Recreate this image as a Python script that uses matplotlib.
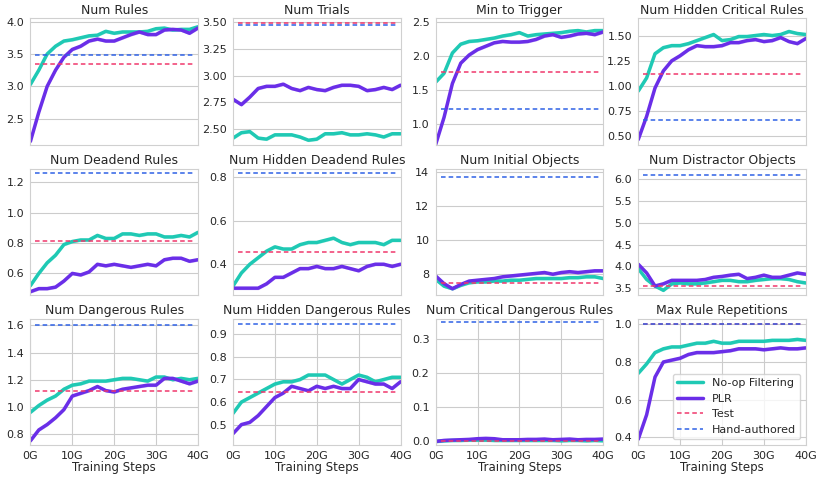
import numpy as np
import matplotlib.pyplot as plt
import seaborn as sns

sns.set_style('whitegrid')
plt.rcParams['font.family'] = ['DejaVu Sans']

steps = np.arange(0, 41, 2)  # in G

titles = ['Num Rules', 'Num Trials', 'Min to Trigger', 'Num Hidden Critical Rules',
          'Num Deadend Rules', 'Num Hidden Deadend Rules', 'Num Initial Objects', 'Num Distractor Objects',
          'Num Dangerous Rules', 'Num Hidden Dangerous Rules', 'Num Critical Dangerous Rules', 'Max Rule Repetitions']

noop = [
    [3.03, 3.25, 3.5, 3.62, 3.7, 3.72, 3.75, 3.78, 3.79, 3.85, 3.82, 3.84, 3.84, 3.84, 3.85, 3.89, 3.9, 3.87, 3.88, 3.88, 3.92],
    [2.42, 2.47, 2.48, 2.42, 2.41, 2.45, 2.45, 2.45, 2.43, 2.40, 2.41, 2.46, 2.46, 2.47, 2.45, 2.45, 2.46, 2.45, 2.43, 2.46, 2.46],
    [1.62, 1.75, 2.05, 2.18, 2.22, 2.23, 2.25, 2.27, 2.3, 2.32, 2.35, 2.3, 2.32, 2.33, 2.34, 2.35, 2.37, 2.38, 2.36, 2.38, 2.38],
    [0.95, 1.08, 1.32, 1.38, 1.4, 1.4, 1.42, 1.45, 1.48, 1.51, 1.45, 1.46, 1.49, 1.49, 1.5, 1.51, 1.5, 1.51, 1.54, 1.52, 1.51],
    [0.52, 0.6, 0.67, 0.72, 0.79, 0.81, 0.82, 0.82, 0.85, 0.83, 0.83, 0.86, 0.86, 0.85, 0.86, 0.86, 0.84, 0.84, 0.85, 0.84, 0.87],
    [0.3, 0.36, 0.4, 0.43, 0.46, 0.48, 0.47, 0.47, 0.49, 0.5, 0.5, 0.51, 0.52, 0.5, 0.49, 0.5, 0.5, 0.5, 0.49, 0.51, 0.51],
    [7.7, 7.3, 7.15, 7.35, 7.5, 7.55, 7.55, 7.6, 7.6, 7.65, 7.65, 7.7, 7.75, 7.75, 7.75, 7.75, 7.8, 7.8, 7.85, 7.85, 7.75],
    [3.95, 3.7, 3.55, 3.45, 3.6, 3.62, 3.6, 3.6, 3.62, 3.65, 3.68, 3.68, 3.65, 3.65, 3.68, 3.7, 3.72, 3.72, 3.7, 3.65, 3.62],
    [0.96, 1.01, 1.05, 1.08, 1.13, 1.16, 1.17, 1.19, 1.19, 1.19, 1.2, 1.21, 1.21, 1.2, 1.19, 1.22, 1.22, 1.2, 1.21, 1.2, 1.21],
    [0.55, 0.6, 0.62, 0.64, 0.66, 0.68, 0.69, 0.69, 0.7, 0.72, 0.72, 0.72, 0.7, 0.68, 0.7, 0.72, 0.71, 0.69, 0.7, 0.71, 0.71],
    [0.0, 0.002, 0.003, 0.003, 0.004, 0.004, 0.004, 0.003, 0.003, 0.003, 0.003, 0.003, 0.003, 0.003, 0.003, 0.002, 0.003, 0.003, 0.002, 0.003, 0.002],
    [0.74, 0.79, 0.85, 0.87, 0.88, 0.88, 0.89, 0.9, 0.9, 0.91, 0.9, 0.9, 0.91, 0.91, 0.91, 0.91, 0.915, 0.915, 0.915, 0.92, 0.915],
]

plr = [
    [2.15, 2.6, 3.0, 3.25, 3.45, 3.57, 3.62, 3.7, 3.73, 3.7, 3.7, 3.75, 3.8, 3.84, 3.8, 3.8, 3.87, 3.88, 3.87, 3.82, 3.9],
    [2.78, 2.73, 2.8, 2.88, 2.9, 2.9, 2.92, 2.88, 2.86, 2.89, 2.87, 2.86, 2.89, 2.91, 2.91, 2.9, 2.86, 2.87, 2.89, 2.87, 2.91],
    [0.7, 1.1, 1.6, 1.9, 2.02, 2.1, 2.15, 2.2, 2.22, 2.21, 2.21, 2.22, 2.25, 2.3, 2.32, 2.28, 2.3, 2.33, 2.34, 2.32, 2.36],
    [0.47, 0.7, 0.98, 1.15, 1.25, 1.3, 1.36, 1.4, 1.39, 1.39, 1.4, 1.43, 1.43, 1.45, 1.46, 1.44, 1.45, 1.48, 1.44, 1.42, 1.47],
    [0.48, 0.5, 0.5, 0.51, 0.55, 0.6, 0.59, 0.61, 0.66, 0.65, 0.66, 0.65, 0.64, 0.65, 0.66, 0.65, 0.69, 0.7, 0.7, 0.68, 0.69],
    [0.29, 0.29, 0.29, 0.29, 0.31, 0.34, 0.34, 0.36, 0.38, 0.38, 0.39, 0.38, 0.38, 0.39, 0.38, 0.37, 0.39, 0.4, 0.4, 0.39, 0.4],
    [7.9, 7.45, 7.15, 7.4, 7.6, 7.65, 7.7, 7.75, 7.85, 7.9, 7.95, 8.0, 8.05, 8.1, 8.0, 8.1, 8.15, 8.1, 8.15, 8.2, 8.2],
    [4.05, 3.85, 3.55, 3.6, 3.68, 3.68, 3.68, 3.68, 3.7, 3.75, 3.77, 3.8, 3.82, 3.72, 3.75, 3.8, 3.75, 3.75, 3.8, 3.85, 3.82],
    [0.75, 0.83, 0.87, 0.92, 0.98, 1.08, 1.1, 1.12, 1.15, 1.12, 1.11, 1.13, 1.14, 1.15, 1.16, 1.16, 1.21, 1.21, 1.19, 1.17, 1.19],
    [0.46, 0.5, 0.51, 0.54, 0.58, 0.62, 0.64, 0.67, 0.66, 0.65, 0.67, 0.66, 0.67, 0.66, 0.66, 0.7, 0.69, 0.68, 0.68, 0.66, 0.69],
    [0.0, 0.003, 0.004, 0.005, 0.006, 0.008, 0.009, 0.008, 0.005, 0.005, 0.005, 0.006, 0.006, 0.007, 0.005, 0.006, 0.007, 0.005, 0.006, 0.006, 0.007],
    [0.39, 0.52, 0.72, 0.8, 0.81, 0.82, 0.84, 0.85, 0.85, 0.85, 0.855, 0.86, 0.87, 0.87, 0.87, 0.865, 0.87, 0.875, 0.87, 0.87, 0.875],
]

test_vals = [3.35, 3.49, 1.77, 1.12, 0.81, 0.455, 7.5, 3.55, 1.12, 0.645, 0.002, 1.0]
hand_vals = [3.48, 3.47, 1.22, 0.66, 1.26, 0.82, 13.7, 6.1, 1.6, 0.945, 0.35, 1.0]

ylims = [(2.1, 4.05), (2.36, 3.53), (0.7, 2.56), (0.42, 1.67), (0.46, 1.29), (0.26, 0.84),
         (6.8, 14.2), (3.35, 6.25), (0.72, 1.65), (0.41, 0.97), (-0.01, 0.36), (0.36, 1.03)]
yticks = [[2.5, 3.0, 3.5, 4.0], [2.5, 2.75, 3.0, 3.25, 3.5], [1.0, 1.5, 2.0, 2.5], [0.5, 0.75, 1.0, 1.25, 1.5],
          [0.6, 0.8, 1.0, 1.2], [0.4, 0.6, 0.8], [8, 10, 12, 14], [3.5, 4.0, 4.5, 5.0, 5.5, 6.0],
          [0.8, 1.0, 1.2, 1.4, 1.6], [0.5, 0.6, 0.7, 0.8, 0.9], [0.0, 0.1, 0.2, 0.3], [0.4, 0.6, 0.8, 1.0]]
ytickfmt = ['%.1f', '%.2f', '%.1f', '%.2f', '%.1f', '%.1f', '%d', '%.1f', '%.1f', '%.1f', '%.1f', '%.1f']

teal = '#1fc9b4'
purple = '#6a2ee8'
red = '#f0386c'
blue = '#2f62e6'

fig, axes = plt.subplots(3, 4, figsize=(8.23, 4.83), dpi=100)
fig.subplots_adjust(left=0.037, right=0.979, top=0.962, bottom=0.079, wspace=0.21, hspace=0.19)

for i, ax in enumerate(axes.flat):
    lo, hi = ylims[i]
    band = 0.012 * (hi - lo)
    n = np.array(noop[i])
    p = np.array(plr[i])
    ax.fill_between(steps, n - band, n + band, color=teal, alpha=0.3, lw=0)
    ax.fill_between(steps, p - band, p + band, color=purple, alpha=0.3, lw=0)
    ax.plot(steps, n, color=teal, lw=2.5, label='No-op Filtering')
    ax.plot(steps, p, color=purple, lw=2.5, label='PLR')
    ax.axhline(test_vals[i], xmin=0.03, xmax=0.975, color=red, ls='--', lw=1.1, dashes=(3, 2), label='Test')
    ax.axhline(hand_vals[i], xmin=0.03, xmax=0.975, color=blue, ls='--', lw=1.1, dashes=(3, 2), label='Hand-authored')
    ax.set_xlim(0, 40)
    ax.set_ylim(lo, hi)
    ax.set_yticks(yticks[i])
    ax.set_yticklabels([ytickfmt[i] % v for v in yticks[i]])
    ax.set_title(titles[i], fontsize=9, pad=3)
    ax.tick_params(axis='both', labelsize=8, pad=1)
    for s in ax.spines.values():
        s.set_color('#d0d0d0')
    ax.set_xticks([0, 10, 20, 30, 40])
    if i < 8:
        ax.set_xticklabels([])
        ax.xaxis.grid(False)
    else:
        ax.set_xticklabels(['0G', '10G', '20G', '30G', '40G'])
        ax.set_xlabel('Training Steps', fontsize=8.5, labelpad=0)

axes[2, 3].legend(loc='lower right', fontsize=8, frameon=True, handlelength=2.3)

plt.savefig('out.png', dpi=100)
